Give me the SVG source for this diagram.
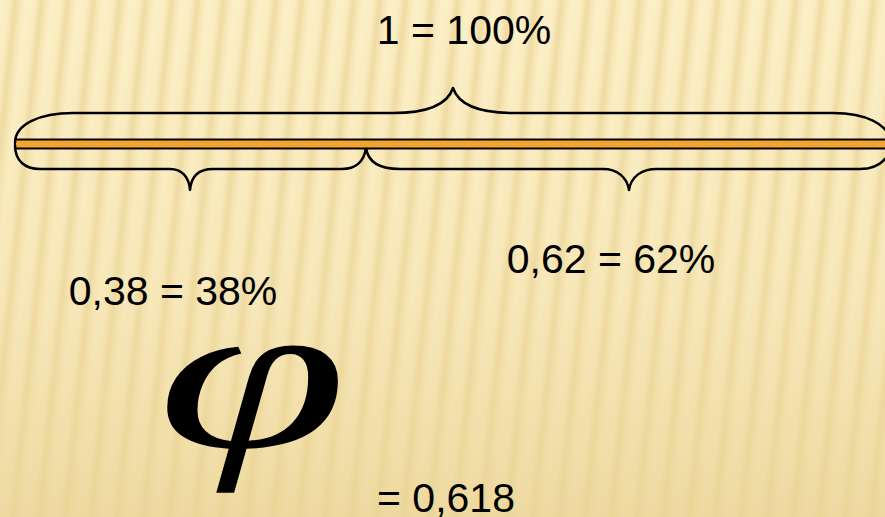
<svg xmlns="http://www.w3.org/2000/svg" width="885" height="517" viewBox="0 0 885 517">
  <defs>
    <linearGradient id="stripeGrad" x1="0" y1="0" x2="1" y2="0">
      <stop offset="0" stop-color="#FCF0C9"/>
      <stop offset="0.35" stop-color="#FBEDC2"/>
      <stop offset="0.6" stop-color="#EEDBA2"/>
      <stop offset="0.8" stop-color="#F8E8B8"/>
      <stop offset="1" stop-color="#FCF0C9"/>
    </linearGradient>
    <pattern id="stripes" x="0" y="0" width="26" height="40" patternUnits="userSpaceOnUse" patternTransform="skewX(-6)">
      <rect x="0" y="0" width="26" height="40" fill="url(#stripeGrad)"/>
    </pattern>
    <linearGradient id="shade" x1="0" y1="0" x2="0" y2="1">
      <stop offset="0" stop-color="#F0DCA4" stop-opacity="0"/>
      <stop offset="0.55" stop-color="#EDD79C" stop-opacity="0.3"/>
      <stop offset="1" stop-color="#E9D294" stop-opacity="0.75"/>
    </linearGradient>
    <style>
      .lbl { font-family: "Liberation Sans", Arial, sans-serif; font-size: 41px; fill: #000; text-anchor: middle; }
      .brace { fill: none; stroke: #000; stroke-width: 2.5; stroke-linejoin: round; }
      .phi { font-family: "Liberation Serif", "Times New Roman", serif; font-style: italic; font-size: 215px; fill: #000; }
    </style>
  </defs>

  <g id="background">
    <rect x="0" y="0" width="885" height="517" fill="url(#stripes)"/>
    <rect x="0" y="0" width="885" height="517" fill="url(#shade)"/>
  </g>

  <g id="bar">
    <rect x="15" y="139.5" width="880" height="9" fill="#F1A333" stroke="#000" stroke-width="2"/>
  </g>

  <g id="braces">
    <path id="brace-top" class="brace" d="M15,143 C15,124 40,113 73,113 L393,113 C425,113 447,106 453,88 C459,106 481,113 513,113 L833,113 C866,113 888,124 892,143"/>
    <path id="brace-left" class="brace" d="M15,145 C15,161 25,169 40,169 L170,169 C182,169 189,177 190,190 C191,177 198,169 213,169 L342,169 C355,169 364,162 366,148"/>
    <path id="brace-right" class="brace" d="M366,148 C368,162 380,169 400,169 L603,169 C617,169 627,177 629,190 C631,177 641,169 657,169 L860,169 C876,169 886,162 892,148"/>
  </g>

  <g id="label-total">
    <text class="lbl" x="464" y="44">1 = 100%</text>
  </g>
  <g id="label-large">
    <text class="lbl" x="611" y="273">0,62 = 62%</text>
  </g>
  <g id="label-small">
    <text class="lbl" x="173" y="305">0,38 = 38%</text>
  </g>
  <g id="phi-symbol">
    <text class="phi" transform="translate(157,447) scale(1.6,1)" x="0" y="0">φ</text>
  </g>
  <g id="label-phi">
    <text class="lbl" x="446" y="512">= 0,618</text>
  </g>
</svg>
